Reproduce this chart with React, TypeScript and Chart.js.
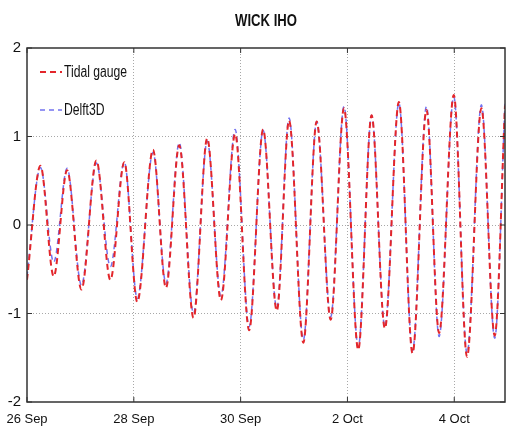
import React, { useEffect, useRef } from "react";
import { Chart, registerables } from "chart.js";

Chart.register(...registerables);

const chartTitle = "WICK IHO";
const seriesNames = ["Tidal gauge", "Delft3D"];

// time in days since 26 Sep 00:00 (turning points of the tide)
const timeDays = [
  0, 0.252, 0.5, 0.751, 1.019, 1.299, 1.561, 1.822, 2.065, 2.359, 2.602, 2.85,
  3.118, 3.374, 3.63, 3.897, 4.159, 4.421, 4.677, 4.907, 5.174, 5.424, 5.686,
  5.935, 6.202, 6.452, 6.701, 6.963, 7.219, 7.48, 7.716, 7.991, 8.239, 8.508,
  8.757, 8.95,
];

const tidalGauge = [
  -0.62, 0.67, -0.58, 0.62, -0.73, 0.73, -0.62, 0.71, -0.87, 0.85, -0.71, 0.9,
  -1.05, 0.98, -0.85, 1.03, -1.19, 1.08, -0.97, 1.18, -1.33, 1.17, -1.07, 1.32,
  -1.41, 1.24, -1.17, 1.39, -1.45, 1.3, -1.22, 1.47, -1.49, 1.32, -1.25, 1.35,
];

const delft3D = [
  -0.58, 0.65, -0.42, 0.64, -0.68, 0.7, -0.47, 0.71, -0.83, 0.82, -0.66, 0.93,
  -1.0, 0.95, -0.8, 1.08, -1.15, 1.07, -0.94, 1.21, -1.3, 1.17, -1.04, 1.34,
  -1.38, 1.24, -1.15, 1.38, -1.42, 1.34, -1.26, 1.45, -1.45, 1.36, -1.28, 1.37,
];

const xTickDays = [0, 2, 4, 6, 8];
const xTickLabels = ["26 Sep", "28 Sep", "30 Sep", "2 Oct", "4 Oct"];
const yTickValues = [-2, -1, 0, 1, 2];

const FONT = '"Liberation Sans", Arial, sans-serif';

function narrowText(ctx: any, text: string, x: number, y: number, sx: number) {
  ctx.save();
  ctx.translate(x, y);
  ctx.scale(sx, 1);
  ctx.fillText(text, 0, 0);
  ctx.restore();
}

const framePlugin = {
  id: "frame",
  afterDatasetsDraw(chart: any) {
    const { ctx, chartArea } = chart;
    const { left, right, top, bottom } = chartArea;
    const xs = chart.scales.x;
    const ys = chart.scales.y;
    ctx.save();
    // box
    ctx.strokeStyle = "#333333";
    ctx.lineWidth = 1.5;
    ctx.setLineDash([]);
    ctx.strokeRect(left, top, right - left, bottom - top);
    // inside ticks
    ctx.lineWidth = 1;
    ctx.beginPath();
    xTickDays.forEach((d) => {
      const px = xs.getPixelForValue(d);
      ctx.moveTo(px, bottom);
      ctx.lineTo(px, bottom - 5);
      ctx.moveTo(px, top);
      ctx.lineTo(px, top + 5);
    });
    yTickValues.forEach((v) => {
      const py = ys.getPixelForValue(v);
      ctx.moveTo(left, py);
      ctx.lineTo(left + 5, py);
      ctx.moveTo(right, py);
      ctx.lineTo(right - 5, py);
    });
    ctx.stroke();

    // legend
    const ds = chart.data.datasets;
    const rows = [72, 110];
    ds.forEach((d: any, i: number) => {
      const y = rows[i];
      ctx.strokeStyle = d.borderColor;
      ctx.lineWidth = d.borderWidth;
      ctx.setLineDash(d.borderDash);
      ctx.beginPath();
      ctx.moveTo(left + 13, y);
      ctx.lineTo(left + 35, y);
      ctx.stroke();
      ctx.setLineDash([]);
      ctx.fillStyle = "#111111";
      ctx.font = "16px " + FONT;
      ctx.textAlign = "left";
      ctx.textBaseline = "middle";
      narrowText(ctx, d.label, left + 37, y + 1, 0.76);
    });

    // title
    ctx.fillStyle = "#111111";
    ctx.font = "bold 16px " + FONT;
    ctx.textAlign = "center";
    ctx.textBaseline = "middle";
    narrowText(ctx, chartTitle, (left + right) / 2, 22, 0.82);
    ctx.restore();
  },
};

export default function App() {
  const canvasRef = useRef<HTMLCanvasElement | null>(null);

  useEffect(() => {
    document.body.style.margin = "0";
    const canvas = canvasRef.current;
    if (!canvas) return;
    const chart = new Chart(canvas, {
      type: "line",
      data: {
        datasets: [
          {
            label: seriesNames[0],
            data: timeDays.map((t, i) => ({ x: t, y: tidalGauge[i] })),
            borderColor: "#e3262b",
            borderWidth: 2,
            borderDash: [6, 4],
            pointRadius: 0,
            fill: false,
            cubicInterpolationMode: "monotone",
          },
          {
            label: seriesNames[1],
            data: timeDays.map((t, i) => ({ x: t, y: delft3D[i] })),
            borderColor: "#7373f0",
            borderWidth: 1.5,
            borderDash: [5, 4],
            pointRadius: 0,
            fill: false,
            cubicInterpolationMode: "monotone",
          },
        ],
      },
      options: {
        animation: false,
        responsive: true,
        maintainAspectRatio: false,
        layout: { padding: { top: 48, right: 3, left: 0, bottom: 0 } },
        plugins: {
          legend: { display: false },
          title: { display: false },
          tooltip: { enabled: false },
        },
        scales: {
          x: {
            type: "linear",
            min: 0,
            max: 8.95,
            afterBuildTicks: (scale: any) => {
              scale.ticks = xTickDays.map((v) => ({ value: v }));
            },
            afterFit: (scale: any) => {
              scale.height = 32;
              scale.paddingLeft = 0;
              scale.paddingRight = 0;
            },
            ticks: {
              padding: 10,
              color: "#111111",
              font: { family: FONT, size: 13 },
              maxRotation: 0,
              autoSkip: false,
              callback: (v: any) => {
                const i = xTickDays.indexOf(Number(v));
                return i >= 0 ? xTickLabels[i] : "";
              },
            },
            grid: {
              drawTicks: false,
              color: (c: any) =>
                c.tick && c.tick.value === 0 ? "rgba(0,0,0,0)" : "#a8a8a8",
              lineWidth: 1,
            },
            border: { display: false, dash: [1, 2] },
          },
          y: {
            min: -2,
            max: 2,
            afterBuildTicks: (scale: any) => {
              scale.ticks = yTickValues.map((v) => ({ value: v }));
            },
            afterFit: (scale: any) => {
              scale.width = 27;
              scale.paddingTop = 0;
              scale.paddingBottom = 0;
            },
            ticks: {
              padding: 6,
              color: "#111111",
              font: { family: FONT, size: 15 },
              callback: (v: any) => String(v),
            },
            grid: {
              drawTicks: false,
              color: (c: any) =>
                c.tick && Math.abs(c.tick.value) === 2
                  ? "rgba(0,0,0,0)"
                  : "#a8a8a8",
              lineWidth: 1,
            },
            border: { display: false, dash: [1, 2] },
          },
        },
      },
      plugins: [framePlugin],
    });
    return () => chart.destroy();
  }, []);

  return (
    <div style={{ width: 508, height: 434, position: "relative" }}>
      <canvas ref={canvasRef} />
    </div>
  );
}
